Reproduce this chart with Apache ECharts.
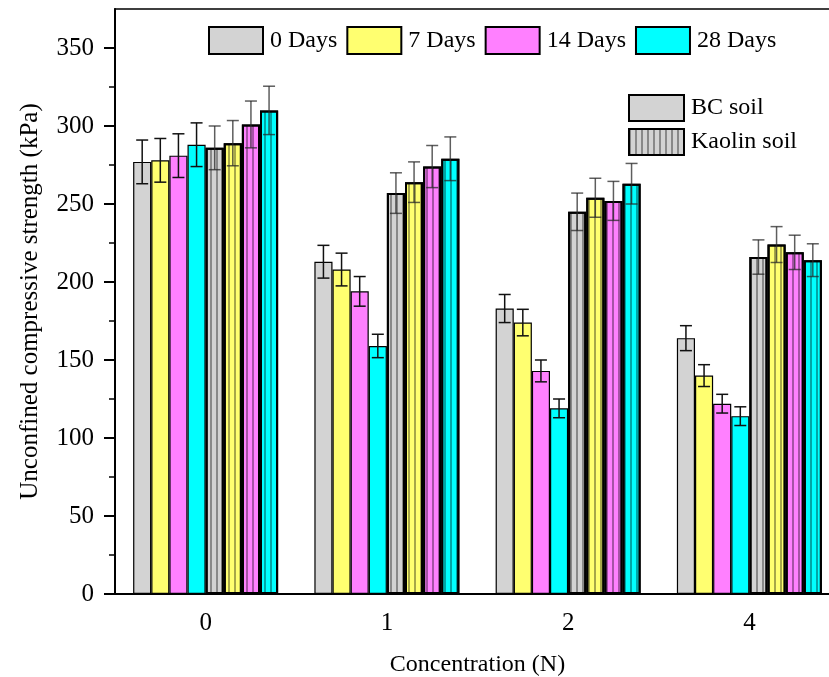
<!DOCTYPE html>
<html>
<head>
<meta charset="utf-8">
<script src="https://cdn.jsdelivr.net/npm/echarts@6/dist/echarts.min.js"></script>
<style>
  html, body { margin: 0; padding: 0; background: #fff; }
  #main { width: 829px; height: 677px; }
</style>
</head>
<body>
<div id="main"></div>
<script>
// concentration groups
var categories = ['0', '1', '2', '4'];
var dayNames = ['0 Days', '7 Days', '14 Days', '28 Days'];
var dayColors = ['#d3d3d3', '#ffff70', '#ff80ff', '#00ffff'];

// BC soil, mean and error
var bc0 = [277, 213, 183, 164];
var bc7 = [278, 208, 174, 140];
var bc14 = [281, 194, 143, 122];
var bc28 = [288, 159, 119, 114];
var bc0Err = [14, 10.5, 9, 8];
var bc7Err = [14, 10.5, 8.5, 7];
var bc14Err = [14, 9.5, 7, 6];
var bc28Err = [14, 7.5, 6, 6];

// Kaolin soil, mean and error
var ka0 = [286, 257, 245, 216];
var ka7 = [289, 264, 254, 224];
var ka14 = [301, 274, 252, 219];
var ka28 = [310, 279, 263, 214];
var ka0Err = [14, 13, 12, 11];
var ka7Err = [14.5, 13, 12.5, 11.5];
var ka14Err = [15, 13.5, 12.5, 11];
var ka28Err = [15.5, 14, 13, 10.5];

var yTicks = [0, 50, 100, 150, 200, 250, 300, 350];

var bcVals = [bc0, bc7, bc14, bc28];
var bcErrs = [bc0Err, bc7Err, bc14Err, bc28Err];
var kaVals = [ka0, ka7, ka14, ka28];
var kaErrs = [ka0Err, ka7Err, ka14Err, ka28Err];

var FONT = '"Liberation Serif", "Times New Roman", serif';
var nBars = 8;
var catGap = 0.2;

// vertical hatch for kaolin bars
var hatch = {
    symbol: 'rect',
    symbolSize: 1,
    dashArrayX: [1.5, 3.5],
    dashArrayY: [1, 0],
    color: 'rgba(0,0,0,0.35)'
};

var myChart = echarts.init(document.getElementById('main'));

var series = [];
// bar series: 4 BC then 4 kaolin
for (var i = 0; i < 4; i++) {
    series.push({
        name: dayNames[i],
        type: 'bar',
        data: bcVals[i],
        barGap: 0,
        barCategoryGap: '20%',
        itemStyle: { color: dayColors[i], borderColor: '#000', borderWidth: 1.2 },
        z: 2
    });
}
for (var i = 0; i < 4; i++) {
    series.push({
        name: 'Kaolin ' + dayNames[i],
        type: 'bar',
        data: kaVals[i],
        barGap: 0,
        barCategoryGap: '20%',
        itemStyle: { color: dayColors[i], borderColor: '#000', borderWidth: 2, decal: hatch },
        z: 2
    });
}

// error bars
function errSeries(slot, vals, errs, color) {
    var d = [];
    for (var k = 0; k < categories.length; k++) {
        d.push([k, vals[k] - errs[k], vals[k] + errs[k]]);
    }
    return {
        type: 'custom',
        z: 5,
        data: d,
        renderItem: function (params, api) {
            var band = api.size([1, 0])[0];
            var bw = band * (1 - catGap) / nBars;
            var off = (slot - (nBars - 1) / 2) * bw;
            var lo = api.coord([api.value(0), api.value(1)]);
            var hi = api.coord([api.value(0), api.value(2)]);
            var x = lo[0] + off;
            var cap = 6;
            var st = { stroke: color, lineWidth: 1.5 };
            return {
                type: 'group',
                children: [
                    { type: 'line', shape: { x1: x, y1: lo[1], x2: x, y2: hi[1] }, style: st },
                    { type: 'line', shape: { x1: x - cap, y1: hi[1], x2: x + cap, y2: hi[1] }, style: st },
                    { type: 'line', shape: { x1: x - cap, y1: lo[1], x2: x + cap, y2: lo[1] }, style: st }
                ]
            };
        }
    };
}
for (var i = 0; i < 4; i++) {
    series.push(errSeries(i, bcVals[i], bcErrs[i], '#111'));
}
for (var i = 0; i < 4; i++) {
    series.push(errSeries(4 + i, kaVals[i], kaErrs[i], 'rgba(40,40,40,0.75)'));
}

// dummy series for soil legend, on hidden axes so they don't shift the bars
series.push({
    name: 'BC soil', type: 'bar', xAxisIndex: 1, yAxisIndex: 1, data: [],
    itemStyle: { color: '#d3d3d3', borderColor: '#000', borderWidth: 1.2 }
});
series.push({
    name: 'Kaolin soil', type: 'bar', xAxisIndex: 1, yAxisIndex: 1, data: [],
    itemStyle: { color: '#d3d3d3', borderColor: '#000', borderWidth: 2, decal: hatch }
});

var option = {
    animation: false,
    backgroundColor: '#fff',
    textStyle: { fontFamily: FONT, color: '#000' },
    legend: [{
        data: dayNames,
        left: 208,
        top: 26,
        padding: 0,
        itemWidth: 54,
        itemHeight: 27,
        itemGap: 9,
        icon: 'rect',
        textStyle: { fontFamily: FONT, fontSize: 24, color: '#000', padding: [0, 0, 0, 2] },
        selectedMode: false
    }, {
        data: ['BC soil', 'Kaolin soil'],
        orient: 'vertical',
        left: 628,
        top: 94,
        padding: 0,
        itemWidth: 55,
        itemHeight: 26,
        itemGap: 6,
        icon: 'rect',
        textStyle: { fontFamily: FONT, fontSize: 24, color: '#000', padding: [0, 0, 0, 2] },
        selectedMode: false
    }],
    grid: {
        left: 115,
        right: -11,
        top: 9,
        bottom: 83,
        outerBoundsMode: 'none',
        containLabel: false,
        show: true,
        borderColor: '#000',
        borderWidth: 1.5
    },
    xAxis: [{
        type: 'category',
        data: categories,
        name: 'Concentration (N)',
        nameLocation: 'middle',
        nameGap: 59,
        nameTextStyle: { fontFamily: FONT, fontSize: 24, color: '#000' },
        axisLine: { lineStyle: { color: '#000', width: 2 } },
        axisTick: { alignWithLabel: true, length: 10, lineStyle: { color: '#000', width: 2 } },
        axisLabel: { fontFamily: FONT, fontSize: 25, color: '#000', margin: 17 }
    }, {
        // boundary ticks between groups
        type: 'category',
        data: categories,
        position: 'bottom',
        axisLine: { show: false },
        axisTick: { length: 5, lineStyle: { color: '#000', width: 2 } },
        axisLabel: { show: false }
    }],
    yAxis: [{
        type: 'value',
        min: 0,
        max: 375,
        interval: 50,
        name: 'Unconfined compressive strength (kPa)',
        nameLocation: 'middle',
        nameGap: 72,
        nameTextStyle: { fontFamily: FONT, fontSize: 25, color: '#000' },
        axisLine: { show: true, lineStyle: { color: '#000', width: 2 } },
        axisTick: { show: true, length: 11, customValues: yTicks, lineStyle: { color: '#000', width: 2 } },
        minorTick: { show: true, splitNumber: 2, length: 6, lineStyle: { color: '#000', width: 1.5 } },
        splitLine: { show: false },
        axisLabel: {
            fontFamily: FONT, fontSize: 25, color: '#000', margin: 21,
            customValues: yTicks
        }
    }, {
        type: 'value',
        min: 0,
        max: 375,
        show: false
    }],
    series: series
};

myChart.setOption(option);
</script>
</body>
</html>
